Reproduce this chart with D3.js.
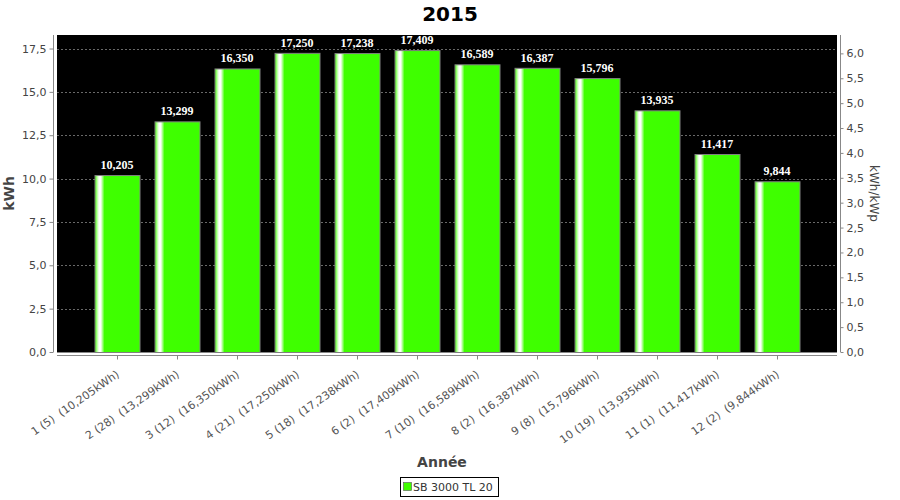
<!DOCTYPE html>
<html><head><meta charset="utf-8">
<script src="https://cdn.jsdelivr.net/npm/d3@7"></script>
<style>body{margin:0;background:#fff}svg{display:block}</style>
</head><body><svg id="c" width="900" height="500"></svg>
<script>
const months = ["1","2","3","4","5","6","7","8","9","10","11","12"];
const days = [5,28,12,21,18,2,10,2,8,19,1,2];
const values = [10.205,13.299,16.350,17.250,17.238,17.409,16.589,16.387,15.796,13.935,11.417,9.844];
const leftTicks = [0,2.5,5,7.5,10,12.5,15,17.5];
const rightTicks = [0,0.5,1,1.5,2,2.5,3,3.5,4,4.5,5,5.5,6];
const kWp = 2.87;
const seriesName = "SB 3000 TL 20";
const title = "2015";

const svg = d3.select("#c");
const L=57,R=837,T=35,B=352;
const fmt3 = v => d3.format(".3f")(v).replace(".",",");
const fmt1 = v => d3.format(".1f")(v).replace(".",",");
const yMax = d3.max(values)*1.05;
const x = d3.scaleBand().domain(months).range([L,R]).paddingInner(0.25).paddingOuter(0.625);
const y = d3.scaleLinear().domain([0,yMax]).range([B,T]);
const y2 = d3.scaleLinear().domain([0,yMax/kWp]).range([B,T]);

const defs = svg.append("defs");
const g = defs.append("linearGradient").attr("id","bg").attr("x1","0").attr("x2","1").attr("y1","0").attr("y2","0");
[[0,"#44ff00"],[0.05,"#b8ffa0"],[0.09,"#ffffff"],[0.13,"#ffffff"],[0.21,"#40ff00"],[1,"#3cff00"]].forEach(s=>g.append("stop").attr("offset",s[0]).attr("stop-color",s[1]));

svg.append("rect").attr("x",L).attr("y",T).attr("width",R-L).attr("height",B-T).attr("fill","#000");
// gridlines
svg.append("g").selectAll("line").data(leftTicks.filter(t=>t>0)).join("line")
  .attr("x1",L).attr("x2",R).attr("y1",d=>Math.round(y(d))+0.5).attr("y2",d=>Math.round(y(d))+0.5)
  .attr("stroke","#b0b0b0").attr("stroke-width",0.6).attr("stroke-dasharray","2,2");
svg.append("line").attr("x1",L).attr("x2",R).attr("y1",B+0.5).attr("y2",B+0.5).attr("stroke","#888");

// bars
svg.append("g").selectAll("rect").data(values).join("rect")
  .attr("x",(d,i)=>x(months[i])+0.5).attr("width",x.bandwidth())
  .attr("y",d=>y(d)+0.5).attr("height",d=>B-y(d))
  .attr("fill","url(#bg)").attr("stroke","#808080").attr("stroke-width",1);
svg.append("g").selectAll("text").data(values).join("text")
  .attr("x",(d,i)=>x(months[i])+x.bandwidth()/2).attr("y",d=>y(d)-6)
  .attr("text-anchor","middle").attr("fill","#fff")
  .style("font","bold 12px 'Liberation Serif', serif").text(d=>fmt3(d));

// left axis
const la = svg.append("g").attr("transform",`translate(${L-3.5},0)`)
  .call(d3.axisLeft(y).tickValues(leftTicks).tickFormat(fmt1).tickSize(4).tickPadding(3));
// right axis
const ra = svg.append("g").attr("transform",`translate(${R+3.5},0)`)
  .call(d3.axisRight(y2).tickValues(rightTicks).tickFormat(fmt1).tickSize(3).tickPadding(3));
[la,ra].forEach(a=>{a.select(".domain").attr("stroke","#888").attr("d",`M0,${T}V${B}`);
  a.selectAll(".tick line").attr("stroke","#888");
  a.selectAll("text").attr("fill","#444").style("font","11px 'DejaVu Sans', sans-serif");});
// bottom axis
const ba = svg.append("g").attr("transform",`translate(0,${B+3.5})`);
ba.append("line").attr("x1",L).attr("x2",R).attr("stroke","#888");
ba.selectAll("line.t").data(months).join("line").attr("class","t")
  .attr("x1",d=>Math.round(x(d)+x.bandwidth()/2)+0.5).attr("x2",d=>Math.round(x(d)+x.bandwidth()/2)+0.5)
  .attr("y1",0).attr("y2",4).attr("stroke","#888");
svg.append("g").selectAll("text").data(months).join("text")
  .attr("transform",(d,i)=>`translate(${x(d)+x.bandwidth()/2+3},${B+24}) rotate(-35)`)
  .attr("text-anchor","end").attr("fill","#555")
  .style("font","11px 'DejaVu Sans', sans-serif")
  .text((d,i)=>`${d} (${days[i]})\u00a0\u00a0(${fmt3(values[i])}kWh)`);

// titles
svg.append("text").attr("x",450).attr("y",21).attr("text-anchor","middle")
  .style("font","bold 20px 'DejaVu Sans', sans-serif").attr("fill","#000").text(title);
svg.append("text").attr("transform",`translate(14,${(T+B)/2}) rotate(-90)`).attr("text-anchor","middle")
  .style("font","bold 14px 'DejaVu Sans', sans-serif").attr("fill","#444").text("kWh");
svg.append("text").attr("transform",`translate(870,${(T+B)/2}) rotate(90)`).attr("text-anchor","middle")
  .style("font","12px 'DejaVu Sans', sans-serif").attr("fill","#444").text("kWh/kWp");
svg.append("text").attr("x",442).attr("y",467).attr("text-anchor","middle")
  .style("font","bold 14px 'DejaVu Sans', sans-serif").attr("fill","#444").text("Année");
// legend
const lg = svg.append("g");
lg.append("rect").attr("x",400.5).attr("y",477.5).attr("width",98).attr("height",19).attr("fill","#fff").attr("stroke","#000");
lg.append("rect").attr("x",403.5).attr("y",482.5).attr("width",8).attr("height",8).attr("fill","#40ff00").attr("stroke","#555").attr("stroke-width",0.6);
lg.append("text").attr("x",413).attr("y",491).style("font","11px 'DejaVu Sans', sans-serif").attr("fill","#333").text(seriesName);
</script></body></html>
